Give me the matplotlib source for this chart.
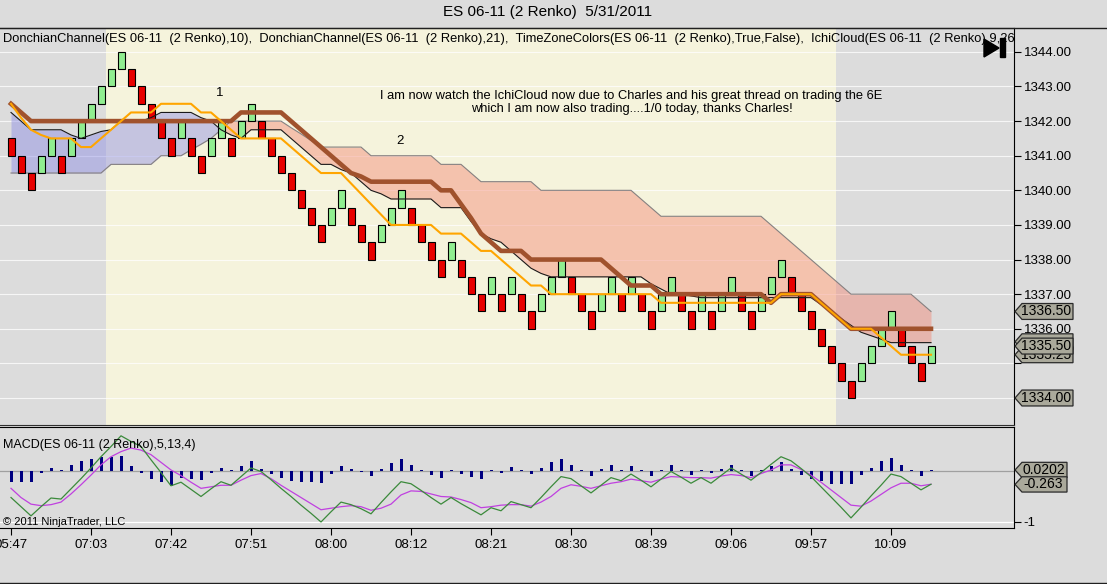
import numpy as np
import matplotlib
matplotlib.use('Agg')
import matplotlib.pyplot as plt
from matplotlib.patches import Polygon, Rectangle
from matplotlib.lines import Line2D

plt.rcParams['font.family'] = ['Liberation Sans', 'DejaVu Sans']

# ---- data (one value per renko brick) ----
# brick bottom price and direction (G = up brick, R = down brick), brick size 0.5
brick_low = [
    1341.0, 1340.5, 1340.0, 1340.5, 1341.0, 1340.5, 1341.0, 1341.5, 1342.0, 1342.5,
    1343.0, 1343.5, 1343.0, 1342.5, 1342.0, 1341.5, 1341.0, 1341.5, 1341.0, 1340.5,
    1341.0, 1341.5, 1341.0, 1341.5, 1342.0, 1341.5, 1341.0, 1340.5, 1340.0, 1339.5,
    1339.0, 1338.5, 1339.0, 1339.5, 1339.0, 1338.5, 1338.0, 1338.5, 1339.0, 1339.5,
    1339.0, 1338.5, 1338.0, 1337.5, 1338.0, 1337.5, 1337.0, 1336.5, 1337.0, 1336.5,
    1337.0, 1336.5, 1336.0, 1336.5, 1337.0, 1337.5, 1337.0, 1336.5, 1336.0, 1336.5,
    1337.0, 1336.5, 1337.0, 1336.5, 1336.0, 1336.5, 1337.0, 1336.5, 1336.0, 1336.5,
    1336.0, 1336.5, 1337.0, 1336.5, 1336.0, 1336.5, 1337.0, 1337.5, 1337.0, 1336.5,
    1336.0, 1335.5, 1335.0, 1334.5, 1334.0, 1334.5, 1335.0, 1335.5, 1336.0, 1335.5,
    1335.0, 1334.5, 1335.0]
brick_dir = ("RRRGGRGGGG" "GGRRRRRGRR" "GGRGGRRRRR" "RRGGRRRGGG" "RRRRGRRRGR"
             "GRRGGGRRRG" "GRGRRGGRRG" "RGGRRGGGRR" "RRRRRGGGGR" "RRG")

# DonchianChannel(10) mean (orange)
dc10 = [
    1342.5, 1342.1, 1341.75, 1341.6, 1341.5, 1341.5, 1341.5, 1341.25, 1341.25, 1341.5,
    1341.75, 1342.0, 1342.25, 1342.25, 1342.25, 1342.5, 1342.5, 1342.5, 1342.5, 1342.25,
    1342.25, 1342.0, 1341.75, 1341.5, 1341.5, 1341.5, 1341.5, 1341.5, 1341.25, 1341.0,
    1340.75, 1340.5, 1340.5, 1340.5, 1340.2, 1339.9, 1339.6, 1339.3, 1339.0, 1339.0,
    1339.0, 1339.0, 1339.0, 1338.75, 1338.75, 1338.75, 1338.5, 1338.25, 1338.25, 1338.0,
    1337.75, 1337.5, 1337.25, 1337.25, 1337.0, 1337.0, 1337.0, 1337.0, 1337.0, 1337.0,
    1337.0, 1337.0, 1337.0, 1337.0, 1337.0, 1336.75, 1336.75, 1336.75, 1336.75, 1336.75,
    1336.75, 1336.75, 1336.75, 1336.75, 1336.75, 1336.75, 1336.75, 1337.0, 1337.0, 1337.0,
    1337.0, 1336.75, 1336.5, 1336.25, 1336.0, 1336.0, 1336.0, 1335.75, 1335.5, 1335.25,
    1335.25, 1335.25, 1335.25]

# DonchianChannel(21) mean (brown)
dc21 = [
    1342.5, 1342.25, 1342.0, 1342.0, 1342.0, 1342.0, 1342.0, 1342.0, 1342.0, 1342.0,
    1342.0, 1342.0, 1342.0, 1342.0, 1342.0, 1342.0, 1342.0, 1342.0, 1342.0, 1342.0,
    1342.0, 1342.0, 1342.0, 1342.25, 1342.25, 1342.25, 1342.25, 1342.25, 1342.0, 1341.75,
    1341.5, 1341.25, 1341.0, 1340.75, 1340.5, 1340.4, 1340.25, 1340.25, 1340.25, 1340.25,
    1340.25, 1340.25, 1340.25, 1340.0, 1340.0, 1339.6, 1339.2, 1338.75, 1338.5, 1338.25,
    1338.25, 1338.25, 1338.0, 1338.0, 1338.0, 1338.0, 1338.0, 1338.0, 1338.0, 1338.0,
    1337.75, 1337.5, 1337.25, 1337.25, 1337.25, 1337.0, 1337.0, 1337.0, 1337.0, 1337.0,
    1337.0, 1337.0, 1337.0, 1337.0, 1337.0, 1337.0, 1336.75, 1337.0, 1337.0, 1337.0,
    1337.0, 1336.75, 1336.5, 1336.25, 1336.0, 1336.0, 1336.0, 1336.0, 1336.0, 1336.0,
    1336.0, 1336.0, 1336.0]

# IchiCloud spans (thin black line and the grey edge line)
span_a = [
    1342.25, 1342.0, 1341.75, 1341.75, 1341.75, 1341.75, 1341.6, 1341.5, 1341.6, 1341.7,
    1341.75, 1342.0, 1342.0, 1342.0, 1342.1, 1342.25, 1342.25, 1342.25, 1342.25, 1342.1,
    1342.0, 1341.75, 1341.6, 1341.5, 1341.75, 1341.75, 1341.75, 1341.75, 1341.5, 1341.25,
    1341.0, 1340.75, 1340.75, 1340.6, 1340.5, 1340.25, 1340.0, 1339.9, 1339.75, 1339.75,
    1339.75, 1339.75, 1339.75, 1339.5, 1339.5, 1339.5, 1339.1, 1338.75, 1338.6, 1338.5,
    1338.25, 1338.0, 1337.75, 1337.6, 1337.5, 1337.5, 1337.5, 1337.5, 1337.5, 1337.5,
    1337.5, 1337.5, 1337.5, 1337.5, 1337.3, 1337.15, 1337.0, 1337.0, 1336.95, 1336.9,
    1336.9, 1336.9, 1336.9, 1336.9, 1336.9, 1336.9, 1336.9, 1336.9, 1336.9, 1336.9,
    1336.9, 1336.7, 1336.5, 1336.3, 1336.1, 1335.9, 1335.8, 1335.7, 1335.6, 1335.6,
    1335.6, 1335.6, 1335.6]
span_b = [
    1340.5, 1340.5, 1340.5, 1340.5, 1340.5, 1340.5, 1340.5, 1340.5, 1340.5, 1340.5,
    1340.75, 1340.75, 1340.75, 1340.75, 1340.75, 1341.0, 1341.0, 1341.0, 1341.17, 1341.33,
    1341.5, 1341.75, 1342.0, 1342.0, 1342.0, 1342.0, 1342.0, 1342.0, 1341.81, 1341.63,
    1341.44, 1341.25, 1341.25, 1341.25, 1341.25, 1341.25, 1341.0, 1341.0, 1341.0, 1341.0,
    1341.0, 1341.0, 1341.0, 1340.75, 1340.75, 1340.75, 1340.5, 1340.25, 1340.25, 1340.25,
    1340.25, 1340.25, 1340.25, 1340.0, 1340.0, 1340.0, 1340.0, 1340.0, 1340.0, 1340.0,
    1340.0, 1340.0, 1340.0, 1339.75, 1339.5, 1339.25, 1339.25, 1339.25, 1339.25, 1339.25,
    1339.25, 1339.25, 1339.25, 1339.25, 1339.25, 1339.25, 1339.0, 1338.75, 1338.5, 1338.25,
    1338.0, 1337.75, 1337.5, 1337.25, 1337.0, 1337.0, 1337.0, 1337.0, 1337.0, 1337.0,
    1337.0, 1336.75, 1336.5]

# MACD(5,13,4)
macd_line = [
    -0.52, -0.70, -0.88, -0.70, -0.53, -0.55, -0.35, -0.15, 0.06, 0.28,
    0.48, 0.69, 0.58, 0.48, 0.22, -0.03, -0.29, -0.22, -0.36, -0.50,
    -0.35, -0.21, -0.28, -0.11, 0.06, -0.01, -0.17, -0.34, -0.50, -0.67,
    -0.83, -1.00, -0.80, -0.61, -0.66, -0.74, -0.84, -0.62, -0.41, -0.21,
    -0.25, -0.38, -0.52, -0.65, -0.52, -0.64, -0.75, -0.86, -0.72, -0.78,
    -0.60, -0.66, -0.72, -0.52, -0.31, -0.11, -0.15, -0.29, -0.43, -0.28,
    -0.13, -0.19, -0.06, -0.18, -0.31, -0.16, -0.01, -0.12, -0.24, -0.13,
    -0.24, -0.09, 0.06, -0.06, -0.18, -0.03, 0.13, 0.28, 0.20, 0.05,
    -0.11, -0.31, -0.51, -0.71, -0.92, -0.71, -0.49, -0.28, -0.06, -0.11,
    -0.24, -0.37, -0.26]
macd_avg = [
    -0.34, -0.52, -0.65, -0.68, -0.66, -0.61, -0.45, -0.27, -0.08, 0.12,
    0.28, 0.38, 0.45, 0.41, 0.32, 0.17, 0.02, -0.09, -0.22, -0.34,
    -0.31, -0.28, -0.28, -0.18, -0.09, -0.05, -0.15, -0.28, -0.40, -0.52,
    -0.64, -0.76, -0.73, -0.70, -0.68, -0.70, -0.77, -0.73, -0.65, -0.47,
    -0.39, -0.40, -0.45, -0.50, -0.51, -0.56, -0.62, -0.72, -0.70, -0.67,
    -0.66, -0.66, -0.69, -0.61, -0.50, -0.34, -0.27, -0.30, -0.34, -0.29,
    -0.24, -0.21, -0.16, -0.19, -0.22, -0.16, -0.11, -0.12, -0.13, -0.13,
    -0.14, -0.10, -0.07, -0.09, -0.13, -0.05, 0.02, 0.12, 0.12, 0.03,
    -0.08, -0.22, -0.37, -0.52, -0.67, -0.69, -0.59, -0.46, -0.33, -0.24,
    -0.24, -0.29, -0.26]
macd_diff = [
    -0.22, -0.22, -0.22, -0.04, 0.06, 0.02, 0.12, 0.20, 0.24, 0.27,
    0.27, 0.29, 0.10, -0.04, -0.16, -0.22, -0.29, -0.14, -0.16, -0.18,
    -0.04, 0.06, 0.02, 0.10, 0.20, 0.04, -0.06, -0.14, -0.20, -0.22,
    -0.22, -0.24, -0.06, 0.10, 0.04, -0.02, -0.10, 0.04, 0.16, 0.24,
    0.12, 0.02, -0.08, -0.14, 0.02, -0.06, -0.12, -0.16, 0.02, -0.04,
    0.08, 0.02, -0.06, 0.06, 0.18, 0.24, 0.12, 0.02, -0.10, 0.04,
    0.12, 0.02, 0.10, 0.02, -0.10, 0.02, 0.12, 0.02, -0.08, 0.02,
    -0.04, 0.04, 0.12, 0.02, -0.10, 0.02, 0.10, 0.18, 0.04, -0.08,
    -0.16, -0.20, -0.25, -0.25, -0.25, -0.08, 0.06, 0.20, 0.25, 0.12,
    0.02, -0.10, 0.02]

time_tick_bars = [0, 8, 16, 24, 32, 40, 48, 56, 64, 72, 80, 88]
time_labels = ['05:47', '07:03', '07:42', '07:51', '08:00', '08:12',
               '08:21', '08:30', '08:39', '09:06', '09:57', '10:09']
price_ticks = [1334, 1335, 1336, 1337, 1338, 1339, 1340, 1341, 1342, 1343, 1344]
hidden_ticks = [1334, 1335]   # covered by the value tags in the reference
# value tags, drawn back to front ('' = text hidden behind the others)
price_tags = [(1336.50, '1336.50'), (1335.625, ''), (1335.25, '1335.25'),
              (1335.50, '1335.50'), (1334.00, '1334.00')]
macd_tags = [(0.0202, '0.0202'), (-0.263, '-0.263')]

# ---- layout (pixel based, 1107x584) ----
W, H = 1107, 584
grey = '#dcdcdc'
yellow = '#f5f3dc'


def fx(px):
    return px / W


def fy(py):
    return 1 - py / H


fig = plt.figure(figsize=(W / 100, H / 100), dpi=100, facecolor=grey)
ax = fig.add_axes([0, fy(425), fx(1014), (425 - 28) / H])
mx = fig.add_axes([0, fy(528), fx(1014), (528 - 427) / H])

n = len(brick_low)
idx = np.arange(n)

# price panel
ax.set_xlim(-1.1, 100.3)
ax.set_ylim(1333.22, 1344.69)
ax.set_facecolor(grey)
ax.axvspan(9.5, 82.5, color=yellow, lw=0, zorder=0)   # TimeZoneColors session
for p in price_ticks:
    ax.axhline(p, color='white', lw=0.8, alpha=0.75, zorder=0.5)

a = np.array(span_a)
b = np.array(span_b)
ax.fill_between(idx, a, b, where=a >= b, interpolate=True, color='#8c8ce6',
                alpha=0.45, lw=0, zorder=1)
ax.fill_between(idx, a, b, where=a <= b, interpolate=True, color='#f4806c',
                alpha=0.42, lw=0, zorder=1)
ax.plot(idx, b, color='#858080', lw=0.8, zorder=1.5)

cols = ['#90ee90' if d == 'G' else '#e80000' for d in brick_dir]
ax.bar(idx, 0.5, bottom=brick_low, width=0.7, color=cols, edgecolor='black',
       linewidth=0.8, zorder=2)

ax.plot(idx, a, color='#1a1a1a', lw=0.8, zorder=2.5)
ax.plot(idx, dc21, color='#a0522d', lw=3.3, zorder=3)
ax.plot(idx, dc10, color='#ffa500', lw=1.5, zorder=3.5)

ax.yaxis.tick_right()
ax.set_yticks(price_ticks)
ax.set_yticklabels(['' if v in hidden_ticks else f'{v:.2f}' for v in price_ticks])
ax.tick_params(axis='y', direction='out', length=5, pad=2, labelsize=9.5,
               colors='black', width=0.8)
ax.set_xticks([])
ax.spines['left'].set_visible(False)
ax.spines['top'].set_color('black')
ax.spines['right'].set_color('black')
ax.spines['bottom'].set_color('#303030')

ax.text(0.003, 0.972, 'DonchianChannel(ES 06-11  (2 Renko),10),  DonchianChannel(ES 06-11  (2 Renko),21),  '
        'TimeZoneColors(ES 06-11  (2 Renko),True,False),  IchiCloud(ES 06-11  (2 Renko),9,26,52)',
        transform=ax.transAxes, ha='left', va='center', fontsize=9.3, clip_on=True, zorder=6)
ax.text(20.9, 1342.82, '1', ha='center', va='center', fontsize=9.5, zorder=6)
ax.text(38.9, 1341.43, '2', ha='center', va='center', fontsize=9.5, zorder=6)
ax.text(62.0, 1342.73, 'I am now watch the IchiCloud now due to Charles and his great thread on trading the 6E',
        ha='center', va='center', fontsize=9.3, zorder=6)
ax.text(62.1, 1342.35, 'which I am now also trading....1/0 today, thanks Charles!',
        ha='center', va='center', fontsize=9.3, zorder=6)


def tag(axis, val, label, half, width):
    tr = axis.get_yaxis_transform()
    k = 1 / 1014
    pts = [(1 + 1 * k, val), (1 + 8 * k, val + half), (1 + width * k, val + half),
           (1 + width * k, val - half), (1 + 8 * k, val - half)]
    axis.add_patch(Polygon(pts, closed=True, transform=tr, clip_on=False,
                           facecolor='#aaa99b', edgecolor='#2a2a2a', lw=0.9, zorder=7))
    if label:
        axis.text(1 + (width + 6) / 2 * k, val, label, transform=tr, ha='center',
                  va='center', fontsize=10, clip_on=False, zorder=7)


for v, lab in price_tags:
    tag(ax, v, lab, 0.23, 59)

# MACD panel
mx.set_xlim(-1.1, 100.3)
mx.set_ylim(-1.118, 0.863)
mx.set_facecolor(grey)
mx.axhline(0, color='#a0a0a0', lw=0.9, zorder=1)
mx.axhline(-1, color='white', lw=0.9, zorder=1)
mx.bar(idx, macd_diff, width=0.3, color='#000080', zorder=2)
mx.plot(idx, macd_avg, color='#c040e0', lw=0.9, zorder=3)
mx.plot(idx, macd_line, color='#3b8a3b', lw=0.9, zorder=3)
mx.yaxis.tick_right()
mx.set_yticks([-1])
mx.set_yticklabels(['-1'])
mx.tick_params(axis='y', direction='out', length=5, pad=2, labelsize=9.5, width=0.8)
mx.set_xticks(time_tick_bars)
mx.set_xticklabels(time_labels)
mx.tick_params(axis='x', direction='out', length=5, pad=3, labelsize=9.5, width=0.8)
mx.spines['left'].set_visible(False)
for s in ('top', 'right', 'bottom'):
    mx.spines[s].set_color('black')
mx.text(0.003, 0.82, 'MACD(ES 06-11 (2 Renko),5,13,4)', transform=mx.transAxes,
        ha='left', va='center', fontsize=9)
mx.text(0.003, 0.06, '\u00a9 2011 NinjaTrader, LLC', transform=mx.transAxes,
        ha='left', va='center', fontsize=8)
for v, lab in macd_tags:
    tag(mx, v, lab, 0.15, 53)

# window title and frame
fig.text(fx(548), fy(12), 'ES 06-11 (2 Renko)  5/31/2011', ha='center', va='center', fontsize=11)
fig.add_artist(Line2D([0, 1], [fy(27.5), fy(27.5)], transform=fig.transFigure, color='#202020', lw=1))
fig.add_artist(Line2D([0, 1], [fy(583), fy(583)], transform=fig.transFigure, color='#202020', lw=1))

# end-of-chart button
fig.add_artist(Polygon([(fx(984), fy(39)), (fx(984), fy(57)), (fx(999), fy(48))],
                       closed=True, transform=fig.transFigure, color='black', zorder=10))
fig.add_artist(Rectangle((fx(1000), fy(57)), fx(4.5), 19 / H, transform=fig.transFigure,
                         color='black', zorder=10))

fig.savefig('out.png', dpi=100, facecolor=fig.get_facecolor())
